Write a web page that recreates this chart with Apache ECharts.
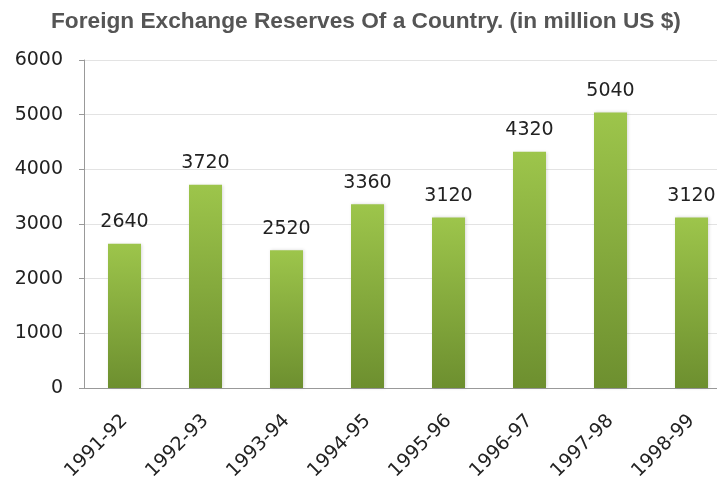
<!DOCTYPE html>
<html>
<head>
<meta charset="utf-8">
<script src="https://cdn.jsdelivr.net/npm/echarts@6/dist/echarts.min.js"></script>
<style>
  html, body { margin: 0; padding: 0; background: #fff; overflow: hidden; }
  #chart { width: 732px; height: 485px; }
</style>
</head>
<body>
<div id="chart"></div>
<script>
// chart data
const years = ['1991-92', '1992-93', '1993-94', '1994-95', '1995-96', '1996-97', '1997-98', '1998-99']
const reserves = [2640, 3720, 2520, 3360, 3120, 4320, 5040, 3120]
const yTicks = [0, 1000, 2000, 3000, 4000, 5000, 6000]

const chart = echarts.init(document.getElementById('chart'))
const labelFont = 'Verdana, "DejaVu Sans", sans-serif'

const options = {
  animation: false,
  title: {
    text: 'Foreign Exchange Reserves Of a Country. (in million US $)',
    left: 46,
    top: 5,
    textStyle: {
      fontFamily: 'Arial, "Liberation Sans", sans-serif',
      fontWeight: 'bold',
      fontSize: 22.7,
      color: '#555'
    }
  },
  grid: {
    left: 84,
    right: 0,
    top: 60,
    bottom: 97,
    containLabel: false
  },
  xAxis: {
    type: 'category',
    data: years,
    axisLine: { lineStyle: { color: '#999', width: 1 } },
    axisTick: { alignWithLabel: true, length: 5, lineStyle: { color: '#999' } },
    axisLabel: {
      rotate: 45,
      margin: 30,
      fontFamily: labelFont,
      fontSize: 19,
      color: '#222'
    }
  },
  yAxis: {
    type: 'value',
    min: yTicks[0],
    max: yTicks[yTicks.length - 1],
    interval: 1000,
    axisLine: { show: true, lineStyle: { color: '#999', width: 1 } },
    axisTick: { show: true, length: 5, lineStyle: { color: '#999' } },
    axisLabel: {
      margin: 21,
      formatter: v => String(v),
      fontFamily: labelFont,
      fontSize: 19,
      color: '#222'
    },
    splitLine: { lineStyle: { color: '#e3e3e3' } }
  },
  series: [
    {
      type: 'bar',
      data: reserves,
      barWidth: 33,
      itemStyle: {
        color: new echarts.graphic.LinearGradient(0, 0, 0, 1, [
          { offset: 0, color: '#9dc54b' },
          { offset: 1, color: '#6d8f2f' }
        ]),
        shadowColor: 'rgba(0,0,0,0.15)',
        shadowBlur: 3,
        shadowOffsetX: 1
      },
      label: {
        show: true,
        position: 'top',
        distance: 12,
        fontFamily: labelFont,
        fontSize: 19,
        color: '#222'
      }
    }
  ]
}
chart.setOption(options)
</script>
</body>
</html>
